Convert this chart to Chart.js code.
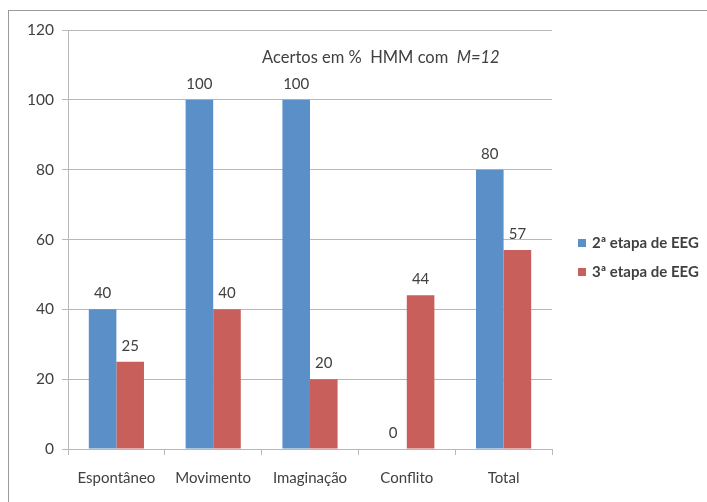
<!DOCTYPE html>
<html>
<head>
<meta charset="utf-8">
<script src="https://cdn.jsdelivr.net/npm/chart.js@4"></script>
<style>
  html, body { margin: 0; padding: 0; background: #fff; }
  #wrap { width: 707px; height: 502px; }
</style>
</head>
<body>
<div id="wrap"><canvas id="myChart"></canvas></div>
<script>
const categories = ['Espontâneo', 'Movimento', 'Imaginação', 'Conflito', 'Total'];
const etapa2 = [40, 100, 100, 0, 80];
const etapa3 = [25, 40, 20, 44, 57];
const seriesNames = ['2ª etapa de EEG', '3ª etapa de EEG'];
const seriesColors = ['#5b8fc8', '#c95f5a'];

const FONT = 'Lato, "Open Sans", sans-serif';
const TXT = '#404040';

// frame, data labels, title and legend
const extras = {
  id: 'extras',
  beforeDraw(chart) {
    const c = chart.ctx;
    c.save();
    c.strokeStyle = '#9a9a9a';
    c.lineWidth = 1;
    c.strokeRect(8.5, 10.5, 800, 600);
    c.restore();
  },
  afterDatasetsDraw(chart) {
    const c = chart.ctx;
    c.save();
    c.font = '15px ' + FONT;
    c.fillStyle = TXT;
    c.textAlign = 'center';
    c.textBaseline = 'alphabetic';
    chart.data.datasets.forEach((ds, i) => {
      chart.getDatasetMeta(i).data.forEach((bar, j) => {
        c.fillText(String(ds.data[j]), bar.x, bar.y - 11);
      });
    });

    // title inside the plot
    c.textAlign = 'left';
    c.textBaseline = 'middle';
    c.font = '16.5px ' + FONT;
    let x = 262, y = 58;
    const t1 = 'Acertos em %  HMM com  ';
    c.fillText(t1, x, y);
    x += c.measureText(t1).width;
    c.font = 'italic 16.5px ' + FONT;
    c.fillText('M=12', x, y);

    // legend
    c.font = 'bold 15px ' + FONT;
    seriesNames.forEach((name, i) => {
      const ly = 243 + i * 29;
      c.fillStyle = seriesColors[i];
      c.fillRect(578, ly - 4, 8, 8);
      c.fillStyle = TXT;
      c.fillText(name, 592, ly);
    });
    c.restore();
  }
};

new Chart(document.getElementById('myChart'), {
  type: 'bar',
  data: {
    labels: categories,
    datasets: [
      { label: seriesNames[0], data: etapa2, backgroundColor: seriesColors[0] },
      { label: seriesNames[1], data: etapa3, backgroundColor: seriesColors[1] }
    ]
  },
  options: {
    responsive: true,
    maintainAspectRatio: false,
    animation: false,
    datasets: { bar: { categoryPercentage: 0.57, barPercentage: 1 } },
    layout: { padding: { left: 8, right: 155, top: 30, bottom: 13 } },
    plugins: { legend: { display: false }, tooltip: { enabled: false } },
    scales: {
      y: {
        min: 0,
        max: 120,
        ticks: { stepSize: 20, color: TXT, font: { family: FONT, size: 15.5 }, padding: 8 },
        grid: { color: '#b8b8b8', tickLength: 6 },
        border: { color: '#b8b8b8' },
        afterFit: s => { s.width = 60; }
      },
      x: {
        ticks: { color: TXT, font: { family: FONT, size: 15 }, padding: 14 },
        grid: { offset: true, drawOnChartArea: false, color: '#b8b8b8', tickLength: 6 },
        border: { color: '#b8b8b8' },
        afterFit: s => { s.height = 40; }
      }
    }
  },
  plugins: [extras]
});
</script>
</body>
</html>
